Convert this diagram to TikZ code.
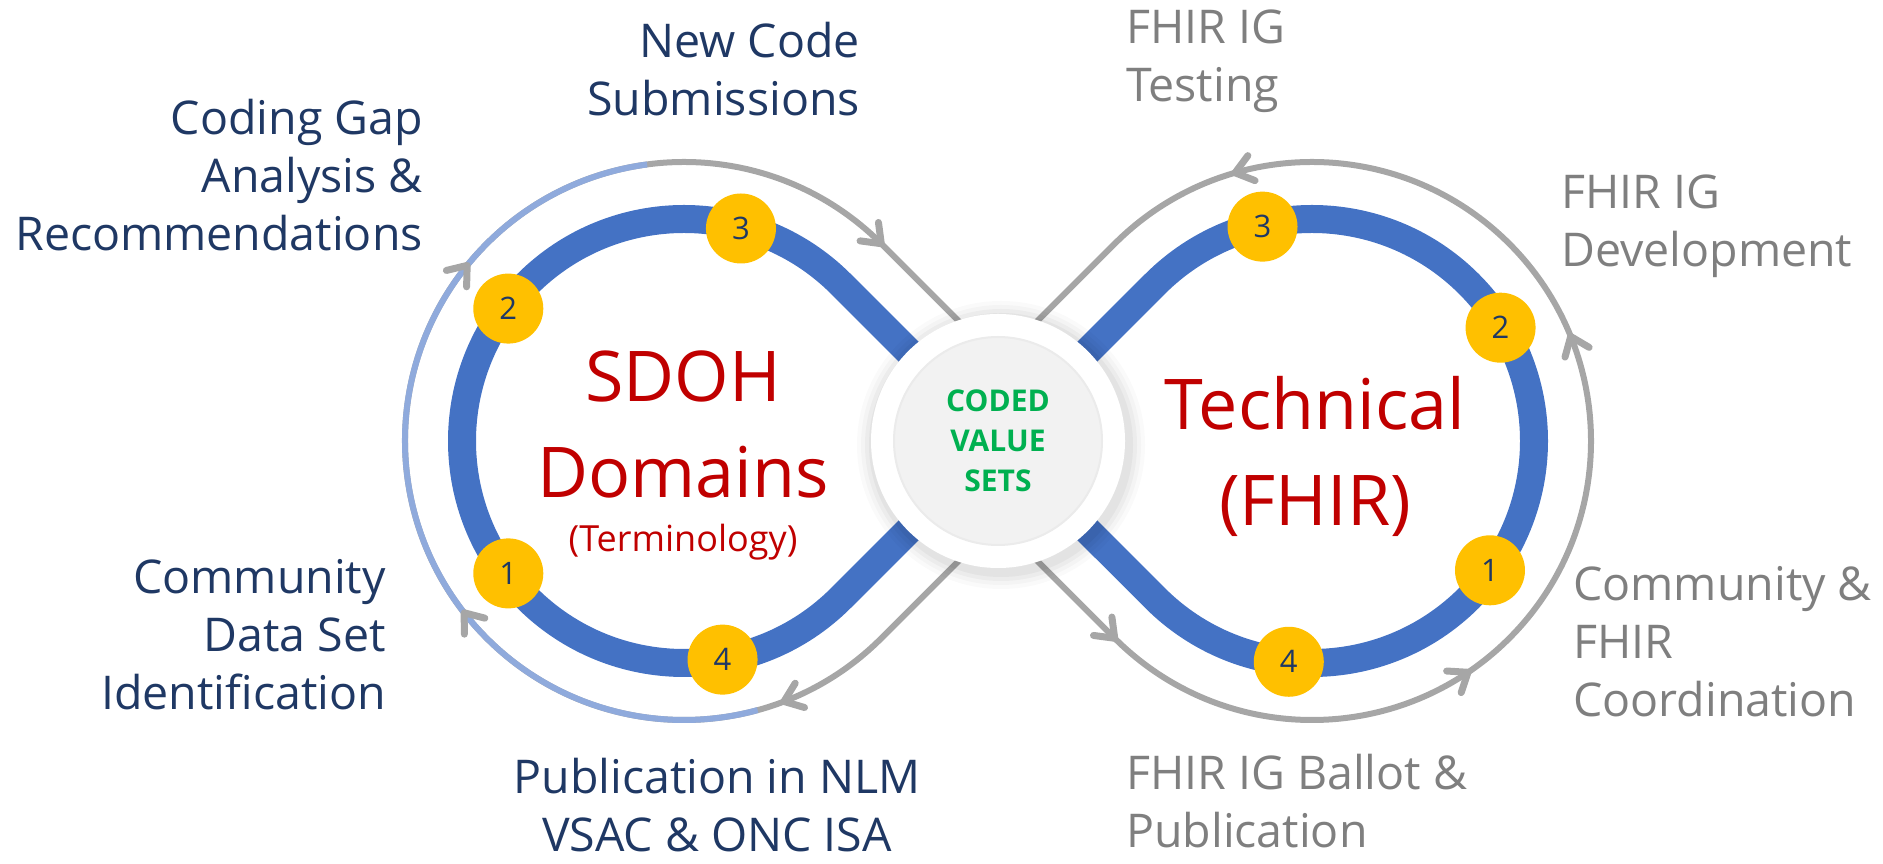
\documentclass[tikz,border=0pt]{standalone}
\usepackage{fontspec}
\setmainfont{Open Sans}
\usetikzlibrary{calc}
\definecolor{navy}{HTML}{1F3864}
\definecolor{bandblue}{HTML}{4472C4}
\definecolor{lightblue}{HTML}{8FAADC}
\definecolor{arrgray}{HTML}{A6A6A6}
\definecolor{txtgray}{HTML}{7F7F7F}
\definecolor{darkred}{HTML}{C00000}
\definecolor{codegreen}{HTML}{00B050}
\definecolor{badgey}{HTML}{FFC000}
\definecolor{diskgray}{HTML}{F2F2F2}
\tikzset{
  band/.style={draw=bandblue, line width=28pt, line join=round},
  outerpath/.style={draw=arrgray, line width=6pt, line join=round},
  badge/.style={circle, fill=badgey, minimum size=70pt, inner sep=0pt, text=navy, font=\fontsize{31}{33}\selectfont},
  navylbl/.style={text=navy, inner sep=0pt, font=\fontsize{46.5}{58}\selectfont},
  graylbl/.style={text=txtgray, inner sep=0pt, font=\fontsize{46.5}{58}\selectfont},
  titlelbl/.style={text=darkred, inner sep=0pt, align=center, font=\fontsize{70}{96}\selectfont},
  garrow/.pic={\draw[arrgray, line width=7pt, line cap=round, line join=round] (-17,13) -- (0,0) -- (-17,-13);}
}
\begin{document}
\begin{tikzpicture}[x=1pt,y=1pt]
\useasboundingbox (0,0) rectangle (1883,864);
\coordinate (C) at (998,423);
\coordinate (L) at (684,423);
\coordinate (R) at (1312,423);

% outer gray figure-eight
\draw[outerpath] ($(C)+(225:57pt)$) -- ($(R)+(225:279pt)$)
  arc[start angle=-135, end angle=135, radius=279pt]
  -- ($(C)+(135:57pt)$) -- ($(C)+(-45:57pt)$) -- ($(L)+(-45:279pt)$)
  arc[start angle=-45, end angle=-315, radius=279pt]
  -- ($(C)+(45:57pt)$) -- cycle;
% light blue highlight on the left
\draw[lightblue, line width=6pt] ($(L)+(97.6:279pt)$) arc[start angle=97.6, end angle=285.3, radius=279pt];

% arrowheads, left loop (clockwise)
\path (L) ++(45:279pt) pic[rotate=-45] {garrow};
\path (L) ++(141:279pt) pic[rotate=51] {garrow};
\path (L) ++(218:279pt) pic[rotate=128] {garrow};
\path (L) ++(291:279pt) pic[rotate=201] {garrow};
% arrowheads, right loop (counter-clockwise)
\path (R) ++(106:279pt) pic[rotate=196] {garrow};
\path (R) ++(22:279pt) pic[rotate=112] {garrow};
\path (R) ++(-56:279pt) pic[rotate=34] {garrow};
\path (R) ++(225:279pt) pic[rotate=-45] {garrow};

% blue band
\draw[band] (C) -- ($(L)+(45:222pt)$)
  arc[start angle=45, end angle=315, radius=222pt]
  -- (C) -- ($(R)+(225:222pt)$)
  arc[start angle=-135, end angle=135, radius=222pt] -- cycle;

% badges
\node[badge] (l3) at ($(L)+(75:220pt)$) {3};
\node[badge] (l2) at ($(L)+(143:220pt)$) {2};
\node[badge] (l1) at ($(L)+(217:220pt)$) {1};
\node[badge] (l4) at ($(L)+(280:222pt)$) {4};
\node[badge] (r3) at ($(R)+(103:220pt)$) {3};
\node[badge] (r2) at ($(R)+(31:220pt)$) {2};
\node[badge] (r1) at ($(R)+(-36:220pt)$) {1};
\node[badge] (r4) at ($(R)+(-96:222pt)$) {4};

% center disc
\foreach \r/\o in {144/0.02,140/0.025,136/0.03,132/0.04}
  \fill[black, opacity=\o] ($(C)+(3,-4)$) circle (\r pt);
\fill[white] (C) circle (127pt);
\fill[diskgray] (C) circle (104pt);
\draw[black!8, line width=2pt] (C) circle (104pt);
\node[text=codegreen, align=center, inner sep=0pt, font=\bfseries\fontsize{30}{40}\selectfont] (cvs) at (C) {CODED\\VALUE\\SETS};

% loop titles (base anchor = baseline of last line)
\node[titlelbl, anchor=base] (sdoh) at (683,366) {SDOH\\Domains};
\node[text=darkred, inner sep=0pt, anchor=base, font=\fontsize{36}{40}\selectfont] (term) at (683,312) {(Terminology)};
\node[titlelbl, anchor=base] (tech) at (1315,338) {Technical\\(FHIR)};

% left labels
\node[navylbl, align=right, anchor=base east] (newcode) at (860,748) {New Code\\Submissions};
\node[navylbl, align=right, anchor=base east] (gap) at (423,613) {Coding Gap\\Analysis \&\\Recommendations};
\node[navylbl, align=right, anchor=base east] (comm) at (386,154) {Community\\Data Set\\Identification};
\node[navylbl, align=center, anchor=base] (pub) at (717,12) {Publication in NLM\\VSAC \& ONC ISA};
% right labels
\node[graylbl, align=left, anchor=base west] (test) at (1126,762) {FHIR IG\\Testing};
\node[graylbl, align=left, anchor=base west] (dev) at (1561,597) {FHIR IG\\Development};
\node[graylbl, align=left, anchor=base west] (coord) at (1573,147) {Community \&\\FHIR\\Coordination};
\node[graylbl, align=left, anchor=base west] (ballot) at (1126,16) {FHIR IG Ballot \&\\Publication};
\end{tikzpicture}
\end{document}
